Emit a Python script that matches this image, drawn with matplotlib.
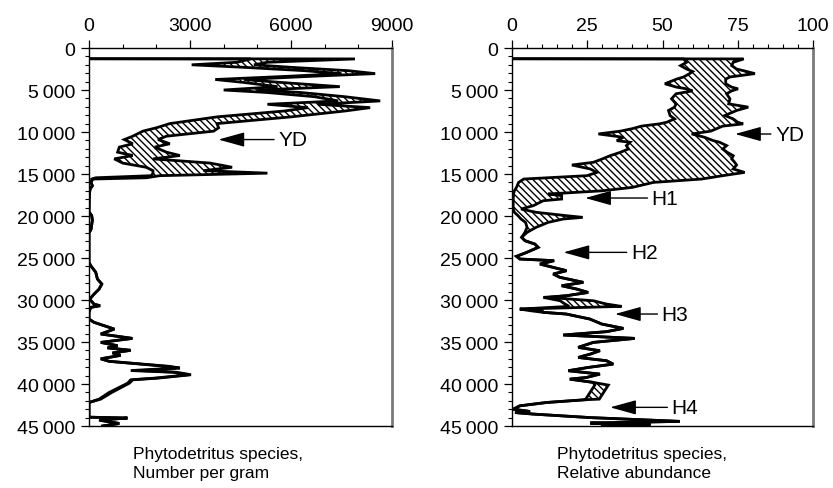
import matplotlib
matplotlib.use('Agg')
import matplotlib.pyplot as plt
from matplotlib.ticker import MultipleLocator, FuncFormatter

# ============================================================================
# DATA - values (age in years BP)
# ============================================================================
age_num = [1280, 1300, 1700, 2000, 2300, 2700, 3050, 3350, 3750, 4100, 4600, 5000,
           5300, 5800, 6300, 6700, 7100, 7500, 8200, 9000, 9500, 9900, 10500, 10900,
           11400, 11800, 12400, 12800, 13200, 13700, 14200, 14600, 14900, 15200,
           15450, 15600, 16000, 16400, 16800, 17500, 19500, 19960, 20500, 21600,
           22000, 25500, 25900, 26700, 27500, 28100, 28700, 29300, 29900, 30500,
           30680, 30880, 31470, 32270, 32660, 33460, 34050, 34570, 35050, 35440,
           35700, 35990, 36300, 36590, 37000, 37300, 37900, 38100, 38400, 38600,
           38900, 39300, 39500, 39900, 41000, 41800, 42200, 43950, 44050, 44300,
           44700, 45000]
num_low = [0, 4800, 4400, 3050, 4600, 6400, 7500, 6000, 3750, 4600, 5600, 4000,
           5300, 6700, 7400, 5300, 6500, 5800, 3800, 2400, 2000, 1600, 1300, 1050,
           1300, 900, 850, 1300, 750, 1000, 1700, 1900, 1900, 1850,
           200, 80, 60, 100, 30, 10, 0, 80, 100, 60,
           0, 0, 50, 200, 250, 380, 300, 150, 20, 150,
           330, 50, 0, 0, 150, 750, 350, 1290, 350, 850,
           550, 1240, 700, 940, 350, 600, 2290, 2600, 1240, 2500,
           2950, 1950, 1240, 1150, 600, 300, 0, 0, 1140, 300,
           900, 400]
num_high = [0, 7900, 5300, 4900, 6000, 7700, 8500, 6700, 4600, 5700, 7450, 5000,
            6300, 7600, 8650, 6800, 8350, 7600, 6000, 3800, 3850, 3700, 2300, 2050,
            2400, 1950, 2300, 2700, 1900, 3600, 4250, 3400, 5300, 2100,
            1700, 120, 60, 100, 30, 10, 0, 80, 100, 60,
            0, 0, 50, 200, 250, 380, 300, 150, 20, 150,
            330, 50, 0, 0, 150, 750, 350, 1290, 350, 850,
            550, 1240, 700, 940, 350, 600, 2400, 2700, 1500, 2600,
            3030, 2050, 1300, 1200, 680, 350, 0, 0, 1140, 300,
            900, 400]

age_rel = [1280, 1300, 1700, 2100, 2500, 2800, 3050, 3450, 3700, 4260, 4660, 4860,
           5100, 5450, 6050, 6650, 7040, 7440, 8040, 8440, 8840, 9030, 9300, 9600,
           9900, 10230, 10630, 11030, 11220, 11620, 12020, 12420, 12820, 13210,
           13610, 13930, 14400, 14810, 15200, 15600, 16000, 16590, 17000, 17380,
           17580, 17980, 18180, 18770, 19170, 19560, 19960, 20160, 20360, 20760,
           21350, 21950, 22540, 22940, 23340, 23730, 24330, 24800, 25120, 25320,
           25720, 26120, 26510, 26910, 27300, 27900, 28300, 28700, 29100, 29490,
           29690, 30090, 30480, 30760, 31080, 31270, 31470, 31670, 32270, 32860,
           33380, 33770, 34170, 34570, 35050, 35640, 36040, 36440, 36840, 37230,
           37630, 38030, 38420, 38820, 39220, 39420, 39810, 40130, 41800, 41870,
           42200, 42600, 43000, 43270, 43400, 43580, 44000, 44450, 44650, 44800,
           45000]
rel_low = [0, 57, 58, 56, 58, 60, 59, 57, 54.7, 50.8, 54.7, 58,
           60, 54.5, 53, 54.5, 54, 52, 52.5, 54, 51.4, 49, 43, 40,
           36, 28.7, 37, 34.8, 39.2, 38, 38.7, 36, 32.6, 30,
           27, 19.9, 26, 28.2, 24.9, 3.9, 2.2, 1.5, 0.8, 0.5,
           0.5, 0.4, 0.4, 0.4, 0.4, 0.8, 2, 2.5, 3, 4.5,
           5, 4.3, 3.2, 4.3, 7.6, 8.7, 4.9, 1.5, 2.6, 14,
           9.3, 13.7, 18.1, 13.7, 15.9, 23.7, 16.5, 21.5, 25.3, 18.1,
           10.4, 16, 17.6, 19, 2.6, 6, 10.4, 18, 25.9, 29.8,
           37, 31.4, 17, 40.8, 27, 22, 29.2, 26, 22, 31.4,
           33.6, 25.3, 18.7, 29.2, 24.8, 19.2, 27, 27.5, 24.5, 24.5,
           11.5, 2.6, 0.4, 6, 1, 7, 26, 55.8, 26, 46,
           30]
rel_high = [0, 77, 73.5, 73, 74.6, 78, 80.7, 72.4, 71, 71, 73, 75.1,
            73, 71.3, 72.4, 72, 78.5, 74.6, 70.7, 73.5, 75, 76.8, 70, 68,
            66, 59.7, 64, 66.9, 69, 71.3, 70, 71.5, 73.5, 73,
            74, 74.6, 73.5, 77.3, 70, 63, 47, 40, 30, 12,
            16.5, 16.5, 10.4, 7.1, 3, 8, 18, 23.5, 17, 12,
            8, 5, 3.2, 4.3, 7.6, 8.7, 4.9, 1.5, 2.6, 14,
            9.3, 13.7, 18.1, 13.7, 15.9, 23.7, 16.5, 21.5, 25.3, 18.1,
            12, 27, 31.4, 36.4, 2.6, 10, 10.4, 18, 25.9, 29.8,
            37, 31.4, 17, 40.8, 27, 22, 29.2, 26, 22, 31.4,
            33.6, 25.3, 18.7, 29.2, 24.8, 19.2, 27, 32, 29, 24.5,
            11.5, 2.6, 0.4, 6, 1, 7, 26, 55.8, 26, 46,
            30]

x_labels = ['Phytodetritus species,\nNumber per gram',
            'Phytodetritus species,\nRelative abundance']

# annotations: (label, tip value, tip age, text value)
notes_num = [('YD', 3844, 10900, 5620)]
notes_rel = [('YD', 74.1, 10240, 87.4),
             ('H1', 24.3, 17860, 46.4),
             ('H2', 17.1, 24330, 39.5),
             ('H3', 34.2, 31670, 49.7),
             ('H4', 32.6, 42780, 53.0)]

# ============================================================================
plt.rcParams.update({
    'font.family': ['Liberation Sans', 'DejaVu Sans'],
    'hatch.linewidth': 1.0,
    'hatch.color': 'black',
})


def thin_sep(v, pos):
    v = int(round(v))
    return f'{v:,}'.replace(',', '\u2009')


def draw_panel(ax, age, low, high, xmax, major, minor, notes):
    ax.fill_betweenx(age, low, high, facecolor='white', edgecolor='black',
                     hatch='\\\\\\\\\\', linewidth=0)
    ax.plot(low, age, color='black', lw=2.0, solid_joinstyle='miter')
    ax.plot(high, age, color='black', lw=2.0, solid_joinstyle='miter')

    ax.set_xlim(0, xmax)
    ax.set_ylim(45000, 0)
    ax.xaxis.tick_top()
    ax.xaxis.set_major_locator(MultipleLocator(major))
    ax.xaxis.set_minor_locator(MultipleLocator(minor))
    ax.xaxis.set_major_formatter(FuncFormatter(lambda v, p: f'{int(v)}'))
    ax.yaxis.set_major_locator(MultipleLocator(5000))
    ax.yaxis.set_minor_locator(MultipleLocator(1000))
    ax.yaxis.set_major_formatter(FuncFormatter(thin_sep))
    ax.tick_params(which='major', length=6, width=0.9, labelsize=14, pad=4,
                   direction='out', color='black')
    ax.tick_params(which='minor', length=3, width=0.8, direction='out',
                   color='black')
    for s in ['left', 'top', 'bottom']:
        ax.spines[s].set_linewidth(1.0)
    ax.spines['right'].set_color('#7a7a7a')
    ax.spines['right'].set_linewidth(2.0)

    for label, tx, ty, lx in notes:
        ax.annotate(label, xy=(tx, ty), xytext=(lx, ty), fontsize=15,
                    ha='left', va='center',
                    arrowprops=dict(arrowstyle='-|>,head_length=0.9,head_width=0.25',
                                    mutation_scale=18, color='black', lw=1.0,
                                    shrinkA=1, shrinkB=0, relpos=(0, 0.5)))


fig = plt.figure(figsize=(8.33, 4.89), dpi=100)
ax1 = fig.add_axes([89 / 833, 1 - 427 / 489, 303 / 833, 378 / 489])
ax2 = fig.add_axes([512 / 833, 1 - 427 / 489, 301 / 833, 378 / 489])

draw_panel(ax1, age_num, num_low, num_high, 9000, 3000, 1000, notes_num)
draw_panel(ax2, age_rel, rel_low, rel_high, 100, 25, 5, notes_rel)

fig.text(133 / 833, 1 - 447 / 489, x_labels[0], fontsize=12.5, ha='left', va='top',
         linespacing=1.3)
fig.text(557 / 833, 1 - 447 / 489, x_labels[1], fontsize=12.5, ha='left', va='top',
         linespacing=1.3)

fig.savefig('out.png', dpi=100)
